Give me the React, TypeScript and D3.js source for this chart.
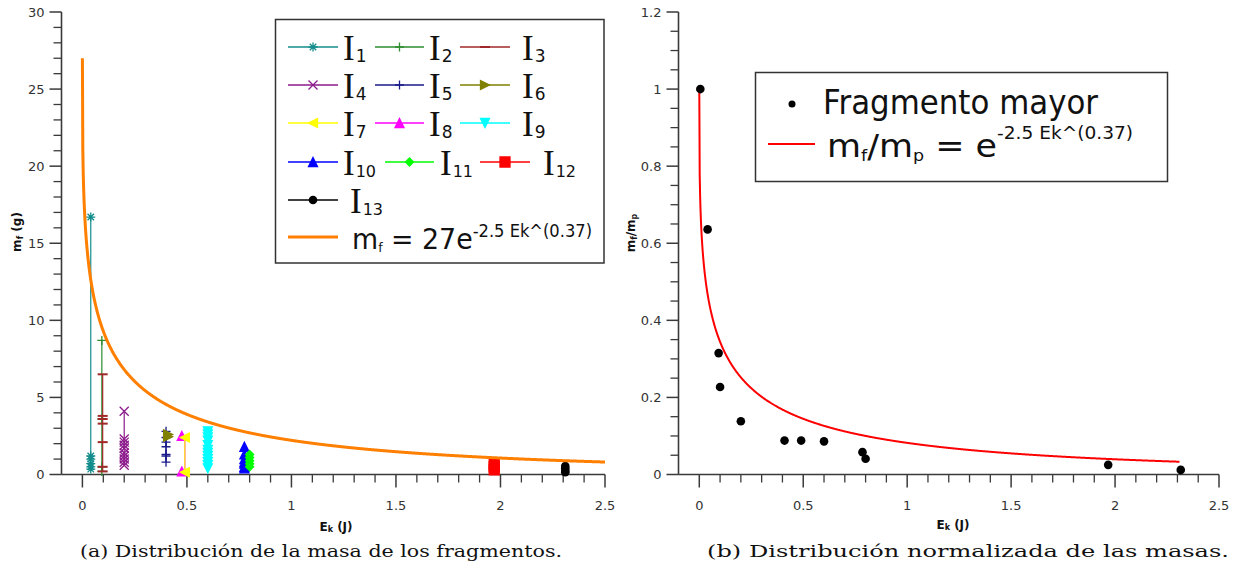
import React from "react";
import * as d3 from "d3";

// ---------- data (left plot: fragment masses per impact) ----------
const impactNames = ["1", "2", "3", "4", "5", "6", "7", "8", "9", "10", "11", "12", "13"];
const impactEk = [0.04, 0.093, 0.097, 0.2, 0.4, 0.41, 0.49, 0.49, 0.6, 0.775, 0.8, 1.97, 2.31];
const I1 = [16.7, 1.2, 1.0, 0.7, 0.5, 0.35];
const I2 = [8.7, 3.6, 0.5, 0.2];
const I3 = [6.5, 3.8, 3.6, 3.3, 2.1, 0.5, 0.2];
const I4 = [4.1, 2.3, 2.1, 1.9, 1.7, 1.4, 1.2, 1.0, 0.8, 0.6];
const I5 = [2.8, 2.4, 2.1, 1.8, 1.3, 1.2, 0.8];
const I6 = [2.6, 2.45];
const I7 = [2.4, 0.15];
const I8 = [2.5, 0.2];
const I9 = [2.8, 2.6, 2.4, 2.2, 1.9, 1.6, 1.4, 1.2, 1.0, 0.8, 0.6, 0.4];
const I10 = [1.8, 1.3, 1.0, 0.8, 0.7, 0.5, 0.4];
const I11 = [1.3, 1.1, 0.9, 0.7, 0.5];
const I12 = [0.65, 0.5, 0.3];
const I13 = [0.55, 0.4, 0.25, 0.15];
const impactValues = [I1, I2, I3, I4, I5, I6, I7, I8, I9, I10, I11, I12, I13];
const impactColors = ["#138c8c", "#2e8b2e", "#a02828", "#8b1a8b", "#1a1a8b", "#808000", "#ffff00", "#ff00ff", "#00ffff", "#0000ff", "#00ff00", "#ff0000", "#000000"];
const impactMarkers = ["asterisk", "plus", "dash", "x", "plus", "tri-right", "tri-left", "tri-up", "tri-down", "tri-up", "diamond", "square", "circle"];
// drawing order (I8 beneath I7)
const drawOrder = [0, 1, 2, 3, 4, 5, 7, 6, 8, 9, 10, 11, 12];

// ---------- data (right plot: largest fragment, normalised) ----------
const largestEk = [0.005, 0.04, 0.093, 0.1, 0.2, 0.41, 0.49, 0.6, 0.785, 0.8, 1.967, 2.316];
const largestRatio = [1.0, 0.636, 0.315, 0.227, 0.138, 0.088, 0.088, 0.086, 0.058, 0.041, 0.025, 0.012];

// fitted model: m = A * exp(B * Ek^C)
const fitA = 27;
const fitB = -2.5;
const fitC = 0.37;

const leftXTicks = [0, 0.5, 1, 1.5, 2, 2.5];
const leftYTicks = [0, 5, 10, 15, 20, 25, 30];
const rightXTicks = [0, 0.5, 1, 1.5, 2, 2.5];
const rightYTicks = [0, 0.2, 0.4, 0.6, 0.8, 1, 1.2];

const AX = "#3a3a3a";
const SANS = "'DejaVu Sans', Verdana, sans-serif";

function markerPath(type: string, h: number) {
  const k = h * 0.72;
  switch (type) {
    case "asterisk":
      return `M${-h},0L${h},0M0,${-h}L0,${h}M${-k},${-k}L${k},${k}M${-k},${k}L${k},${-k}`;
    case "plus":
      return `M${-h},0L${h},0M0,${-h}L0,${h}`;
    case "dash":
      return `M${-h},0L${h},0`;
    case "x":
      return `M${-h},${-h}L${h},${h}M${-h},${h}L${h},${-h}`;
    case "tri-right":
      return `M${-h},${-h}L${h},0L${-h},${h}Z`;
    case "tri-left":
      return `M${h},${-h}L${-h},0L${h},${h}Z`;
    case "tri-up":
      return `M0,${-h}L${h},${h}L${-h},${h}Z`;
    case "tri-down":
      return `M${-h},${-h}L${h},${-h}L0,${h}Z`;
    case "diamond":
      return `M0,${-h}L${h},0L0,${h}L${-h},0Z`;
    case "square":
      return `M${-h},${-h}L${h},${-h}L${h},${h}L${-h},${h}Z`;
    default:
      return "";
  }
}

function Marker({ type, color, x, y }: { type: string; color: string; x: number; y: number }) {
  if (type === "circle") return <circle cx={x} cy={y} r={4.3} fill={color} />;
  const filled = ["tri-right", "tri-left", "tri-up", "tri-down", "diamond", "square"].includes(type);
  const h = type === "square" ? 5 : type === "diamond" ? 4 : type === "dash" ? 5 : 4.5;
  return (
    <path
      d={markerPath(type, h)}
      transform={`translate(${x},${y})`}
      fill={filled ? color : "none"}
      stroke={color}
      strokeWidth={type === "dash" ? 2 : 1.3}
    />
  );
}

function Axes({ x, y, xTicks, yTicks, xMinor, yMinor, yFmt }: any) {
  const [x0, x1] = x.range();
  const [y0, y1] = y.range();
  return (
    <g>
      {xMinor.map((t: number, i: number) => (
        <line key={"xm" + i} x1={x(t)} x2={x(t)} y1={y0} y2={y0 + 8} stroke={AX} strokeWidth={1.3} />
      ))}
      {xTicks.map((t: number, i: number) => (
        <g key={"xt" + i}>
          <line x1={x(t)} x2={x(t)} y1={y0} y2={y0 + 13} stroke={AX} strokeWidth={1.5} />
          <text x={x(t)} y={510} textAnchor="middle" fontSize={13} fontFamily={SANS} fill="#333">
            {String(t)}
          </text>
        </g>
      ))}
      {yMinor.map((t: number, i: number) => (
        <line key={"ym" + i} x1={x0 - 8} x2={x0} y1={y(t)} y2={y(t)} stroke={AX} strokeWidth={1.3} />
      ))}
      {yTicks.map((t: number, i: number) => (
        <g key={"yt" + i}>
          <line x1={x0 - 12} x2={x0} y1={y(t)} y2={y(t)} stroke={AX} strokeWidth={1.5} />
          <text x={x0 - 17} y={y(t) + 4.5} textAnchor="end" fontSize={13} fontFamily={SANS} fill="#333">
            {yFmt(t)}
          </text>
        </g>
      ))}
      <line x1={x0} x2={x1} y1={y0} y2={y0} stroke={AX} strokeWidth={1.6} />
      <line x1={x0} x2={x0} y1={y0} y2={y1} stroke={AX} strokeWidth={1.6} />
    </g>
  );
}

export default function App() {
  // left plot scales
  const xL = d3.scaleLinear().domain([-0.1, 2.5]).range([61.5, 605]);
  const yL = d3.scaleLinear().domain([0, 30]).range([474.5, 12]);
  // right plot scales
  const xR = d3.scaleLinear().domain([-0.1, 2.5]).range([678.5, 1219]);
  const yR = d3.scaleLinear().domain([0, 1.2]).range([474.5, 12]);

  const minorX = d3.range(1, 25).map((i) => i / 10).filter((v) => Math.abs(v * 2 - Math.round(v * 2)) > 1e-6);
  const minorYL = d3.range(1, 30).filter((v) => v % 5 !== 0);
  const minorYR = d3.range(1, 24).map((i) => i * 0.05).filter((v, i) => (i + 1) % 4 !== 0);

  const fit = (e: number) => fitA * Math.exp(fitB * Math.pow(e, fitC));
  const fitN = (e: number) => Math.exp(fitB * Math.pow(e, fitC));
  const samplesL = d3.range(0, 2.5001, 0.002);
  const samplesR = d3.range(0, 2.3101, 0.002);
  const lineL = d3.line<number>().x((e) => xL(e)).y((e) => yL(fit(e)));
  const lineR = d3.line<number>().x((e) => xR(e)).y((e) => yR(fitN(e)));

  const vline = d3.line<number>();

  // legend layout (left)
  const rowsY = [47, 85, 123, 162, 200];
  const legendCols = [
    [[288, 338, 343], [375, 424, 429], [460, 510, 522]],
    [[288, 338, 343], [375, 424, 429], [460, 510, 522]],
    [[288, 338, 343], [375, 424, 429], [460, 510, 522]],
    [[288, 338, 343], [385, 434, 440], [480, 530, 543]],
    [[288, 338, 350]],
  ];

  const legendItems: any[] = [];
  let idx = 0;
  legendCols.forEach((row, r) => {
    row.forEach((c) => {
      legendItems.push({ i: idx, x0: c[0], x1: c[1], lx: c[2], y: rowsY[r] });
      idx++;
    });
  });

  return (
    <svg width={1238} height={572} style={{ display: "block", position: "absolute", left: 0, top: 0 }}>
      <rect width={1238} height={572} fill="#fff" />
      {/* ---------------- LEFT PLOT ---------------- */}
      <Axes x={xL} y={yL} xTicks={leftXTicks} yTicks={leftYTicks} xMinor={minorX} yMinor={minorYL} yFmt={(t: number) => String(t)} />
      {drawOrder.map((s) => {
        const vals = impactValues[s];
        const sorted = [...vals].sort((a, b) => b - a);
        const px = xL(impactEk[s]);
        return (
          <g key={"s" + s}>
            <path
              d={vline(sorted.map((v) => [px, yL(v)] as [number, number])) || ""}
              stroke={impactColors[s]}
              strokeWidth={1.2}
              fill="none"
            />
            {vals.map((v, j) => (
              <Marker key={j} type={impactMarkers[s]} color={impactColors[s]} x={px + (s === 7 ? -3 : 0)} y={yL(v)} />
            ))}
          </g>
        );
      })}
      <path d={lineL(samplesL) || ""} stroke="#ff7f00" strokeWidth={3} fill="none" />
      <text transform="translate(21,232) rotate(-90)" textAnchor="middle" fontSize={12} fontWeight="bold" fontFamily={SANS} fill="#111">
        m<tspan fontSize={8} dy={2}>f</tspan>
        <tspan dy={-2}> (g)</tspan>
      </text>
      <text x={336} y={531} textAnchor="middle" fontSize={12} fontWeight="bold" fontFamily={SANS} fill="#111">
        E<tspan fontSize={8} dy={1}>k</tspan>
        <tspan dy={-1}> (J)</tspan>
      </text>

      {/* left legend */}
      <rect x={275.5} y={19.5} width={328.5} height={243.5} fill="#fff" stroke="#333" strokeWidth={1.5} />
      {legendItems.map((it) => (
        <g key={"lg" + it.i}>
          <line x1={it.x0} x2={it.x1} y1={it.y} y2={it.y} stroke={impactColors[it.i]} strokeWidth={1.3} />
          <Marker type={impactMarkers[it.i]} color={impactColors[it.i]} x={(it.x0 + it.x1) / 2} y={it.y} />
          <text x={it.lx} y={it.y + 13} fontSize={35} fontFamily="'Liberation Serif', serif" fill="#111">
            I
            <tspan dx={1} dy={1.5} fontSize={impactNames[it.i].length > 1 ? 16 : 17} fontFamily={SANS}>
              {impactNames[it.i]}
            </tspan>
          </text>
        </g>
      ))}
      <line x1={288} x2={338} y1={237} y2={237} stroke="#ff7f00" strokeWidth={3} />
      <text x={352} y={249} fontSize={28} fontFamily={SANS} fill="#111" textLength={240} lengthAdjust="spacingAndGlyphs">
        m<tspan fontSize={13} dy={3}>f</tspan>
        <tspan dy={-3}> = 27e</tspan>
        <tspan fontSize={17} dy={-12}>-2.5 Ek^(0.37)</tspan>
      </text>

      {/* ---------------- RIGHT PLOT ---------------- */}
      <Axes x={xR} y={yR} xTicks={rightXTicks} yTicks={rightYTicks} xMinor={minorX} yMinor={minorYR} yFmt={(t: number) => String(+t.toFixed(1))} />
      <path d={lineR(samplesR) || ""} stroke="#ff0000" strokeWidth={2} fill="none" />
      {largestEk.map((e, i) => (
        <circle key={"p" + i} cx={xR(e)} cy={yR(largestRatio[i])} r={4.3} fill="#000" />
      ))}
      <text transform="translate(635,233) rotate(-90)" textAnchor="middle" fontSize={12} fontWeight="bold" fontFamily={SANS} fill="#111">
        m<tspan fontSize={8} dy={2}>f</tspan>
        <tspan dy={-2}>/m</tspan>
        <tspan fontSize={8} dy={2}>p</tspan>
      </text>
      <text x={953} y={529} textAnchor="middle" fontSize={12} fontWeight="bold" fontFamily={SANS} fill="#111">
        E<tspan fontSize={8} dy={1}>k</tspan>
        <tspan dy={-1}> (J)</tspan>
      </text>

      {/* right legend */}
      <rect x={755.5} y={72.5} width={412} height={109} fill="#fff" stroke="#333" strokeWidth={1.5} />
      <circle cx={792} cy={104} r={3.5} fill="#000" />
      <text x={823} y={114} fontSize={34} fontFamily={SANS} fill="#111" textLength={275} lengthAdjust="spacingAndGlyphs">
        Fragmento mayor
      </text>
      <line x1={768} x2={815} y1={144} y2={144} stroke="#ff0000" strokeWidth={2} />
      <text x={827} y={157} fontSize={32} fontFamily={SANS} fill="#111" textLength={306} lengthAdjust="spacingAndGlyphs">
        m<tspan fontSize={16} dy={4}>f</tspan>
        <tspan dy={-4}>/m</tspan>
        <tspan fontSize={16} dy={4}>p</tspan>
        <tspan dy={-4}> = e</tspan>
        <tspan fontSize={17} dy={-18}>-2.5 Ek^(0.37)</tspan>
      </text>

      {/* captions */}
      <text x={80} y={557} fontSize={17} fontFamily="'DejaVu Serif', serif" fill="#111" textLength={482} lengthAdjust="spacingAndGlyphs">
        (a) Distribución de la masa de los fragmentos.
      </text>
      <text x={707} y={557} fontSize={17} fontFamily="'DejaVu Serif', serif" fill="#111" textLength={522} lengthAdjust="spacingAndGlyphs">
        (b) Distribución normalizada de las masas.
      </text>
    </svg>
  );
}
